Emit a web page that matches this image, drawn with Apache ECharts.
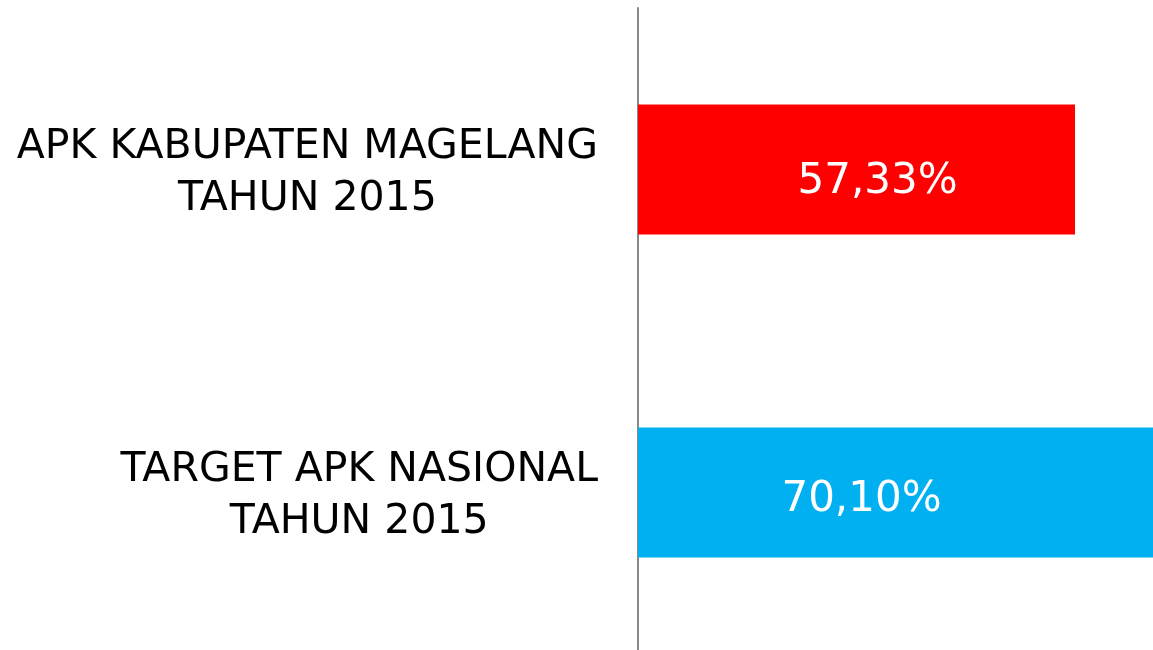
<!DOCTYPE html>
<html>
<head>
<meta charset="utf-8">
<script src="https://cdn.jsdelivr.net/npm/echarts@6/dist/echarts.min.js"></script>
<style>
	html, body { margin: 0; padding: 0; background: #fff; overflow: hidden; }
	#chart { width: 1153px; height: 654px; }
</style>
</head>
<body>
<div id="chart"></div>
<script>
	// kategori (atas ke bawah)
	var categories = ['APK KABUPATEN MAGELANG\nTAHUN 2015', 'TARGET APK NASIONAL\nTAHUN 2015']
	var values = [57.33, 70.10]
	var valueLabels = ['57,33%', '70,10%']
	var barColors = ['#FF0000', '#00B0F0']

	var font = 'Century Gothic, DejaVu Sans, sans-serif'
	var chart = echarts.init(document.getElementById('chart'))

	var seriesData = []
	for (var i = 0; i < values.length; i++) {
		seriesData.push({
			value: values[i],
			itemStyle: { color: barColors[i] },
			label: { offset: i == 0 ? [21, 13] : [-34, 8] }
		})
	}

	chart.setOption({
		animation: false,
		backgroundColor: '#fff',
		grid: { left: 638, right: 0, top: 8, bottom: 0, containLabel: false },
		xAxis: {
			type: 'value',
			min: 0,
			max: 67.56, // batang target terpotong di tepi kanan
			show: false
		},
		yAxis: {
			type: 'category',
			inverse: true,
			data: categories,
			axisLine: { show: true, lineStyle: { color: '#888', width: 2 } },
			axisTick: { show: false },
			splitLine: { show: false },
			axisLabel: {
				margin: 40,
				align: 'right',
				padding: [8, 0, 0, 0],
				formatter: function (value) {
					return value.split('\n').map(function (s) { return '{a|' + s + '}' }).join('\n')
				},
				rich: {
					a: { align: 'center', fontSize: 41, lineHeight: 52, color: '#000', fontFamily: font }
				}
			}
		},
		series: [{
			type: 'bar',
			data: seriesData,
			barWidth: 130,
			clip: true,
			label: {
				show: true,
				position: 'inside',
				color: '#fff',
				fontSize: 42,
				fontFamily: font,
				formatter: function (p) { return valueLabels[p.dataIndex] }
			}
		}]
	})
</script>
</body>
</html>
